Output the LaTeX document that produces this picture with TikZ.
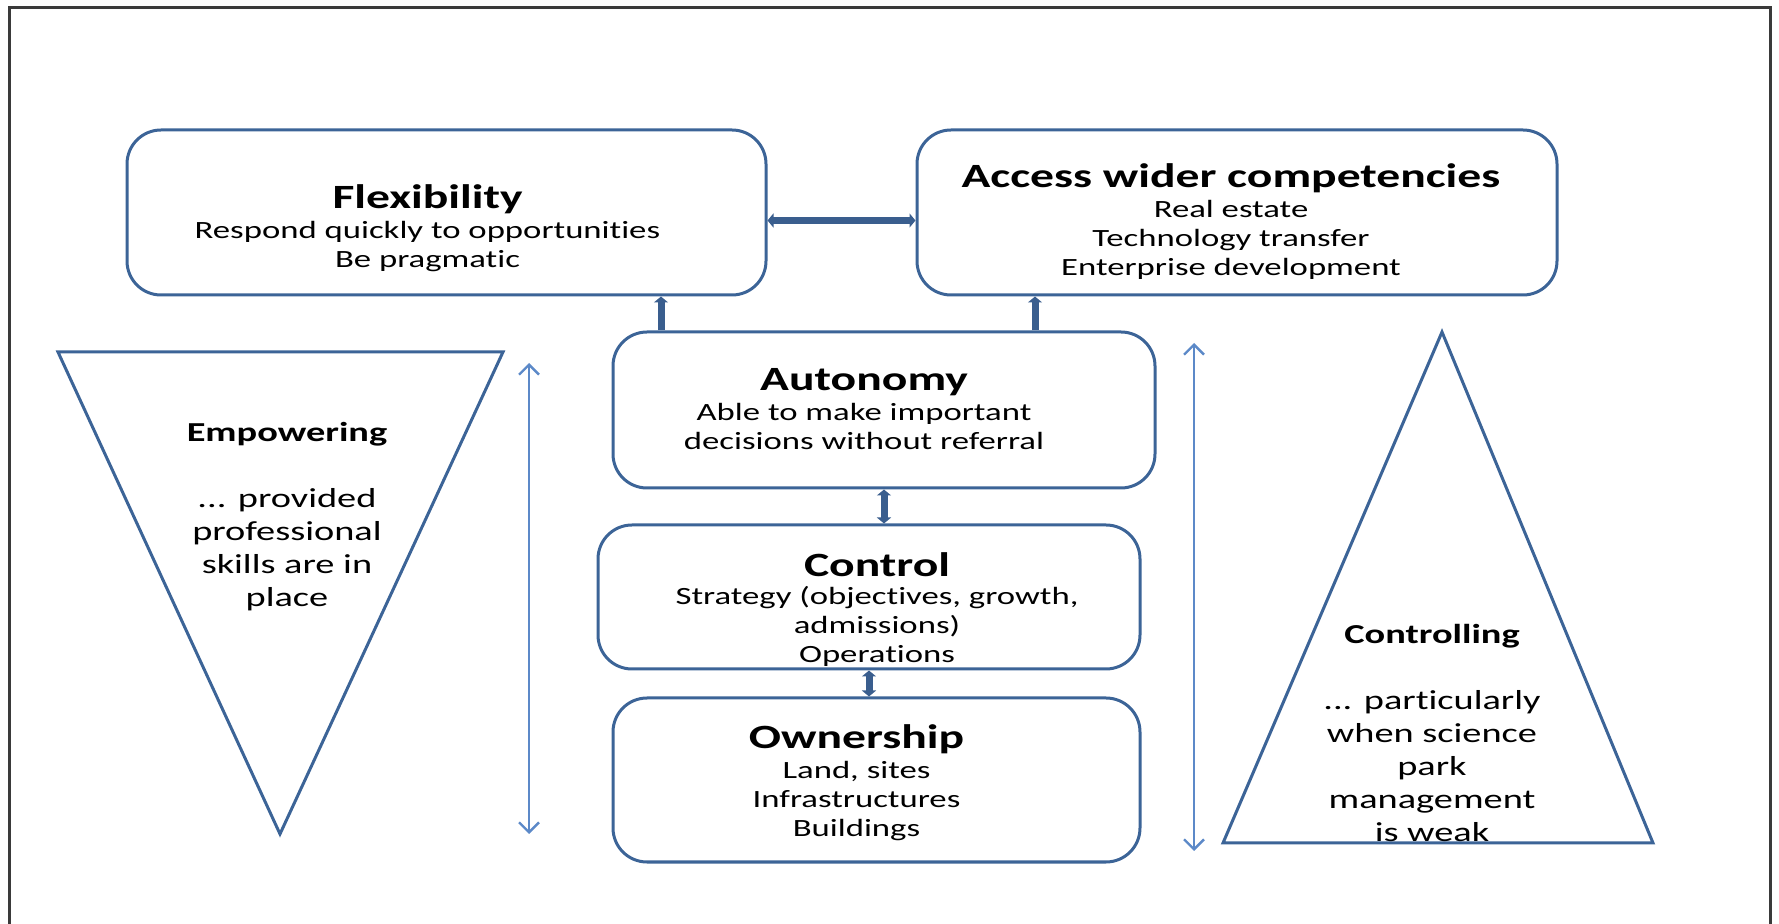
\documentclass[tikz,border=0pt]{standalone}
\usepackage{fontspec}
\setmainfont{Carlito}[FakeStretch=1.4, Ligatures=NoCommon]
\usetikzlibrary{arrows.meta, positioning, calc}
\definecolor{boxblue}{HTML}{3C6497}
\definecolor{linkblue}{HTML}{3A5E8E}
\definecolor{spanblue}{HTML}{5C89C8}
\definecolor{framegray}{HTML}{3A3A3A}

\begin{document}
\begin{tikzpicture}[x=0.5pt, y=-0.5pt,
  box/.style={draw=boxblue, line width=1.5pt, rounded corners=17pt, inner sep=0pt},
  boxtext/.style={align=center, inner sep=0pt, font=\fontsize{12.4}{14.5}\selectfont},
  tri/.style={draw=boxblue, line width=1.5pt},
  tritext/.style={align=center, inner sep=0pt, font=\fontsize{13.7}{16.5}\selectfont},
  link/.style={draw=linkblue, line width=3.5pt, >={Triangle[width=7pt,length=3pt]}},
  span/.style={draw=spanblue, line width=1.2pt, >={Straight Barb[length=5pt,width=10pt]}, <->}]
\useasboundingbox (0,0) rectangle (1779,924);
\draw[framegray, line width=1.5pt] (9,940) -- (9,8) -- (1770,8) -- (1770,940);

% Top boxes
\node[box, minimum width=319.5pt, minimum height=82.5pt] (flex) at (446.5,212.5) {};
\node[boxtext] (flexT) at ([xshift=-9.5pt, yshift=-8pt]flex.center)
  {{\fontsize{17}{20}\selectfont\bfseries Flexibility}\\[0.7pt]
   Respond quickly to opportunities\\Be pragmatic};
\node[box, minimum width=320pt, minimum height=82.5pt] (access) at (1237,212.5) {};
\node[boxtext] (accessT) at ([xshift=-3pt, yshift=-4.5pt]access.center)
  {{\fontsize{17}{20}\selectfont\bfseries Access wider competencies}\\[0.7pt]
   Real estate\\Technology transfer\\Enterprise development};

% Middle column
\node[box, minimum width=271pt, minimum height=78pt] (auton) at (884,410) {};
\node[boxtext] (autonT) at ([xshift=-10pt, yshift=0.5pt]auton.center)
  {{\fontsize{17}{20}\selectfont\bfseries Autonomy}\\[0.7pt]
   Able to make important\\decisions without referral};
\node[box, minimum width=271pt, minimum height=72pt] (ctrl) at (869,597) {};
\node[boxtext] (ctrlT) at ([xshift=4pt, yshift=-6.2pt]ctrl.center)
  {{\fontsize{17}{20}\selectfont\bfseries Control}\\[-0.4pt]
   Strategy (objectives, growth,\\admissions)\\Operations};
\node[box, minimum width=263.5pt, minimum height=82pt] (own) at (876.5,780) {};
\node[boxtext] (ownT) at ([xshift=-10pt, yshift=-1.5pt]own.center)
  {{\fontsize{17}{20}\selectfont\bfseries Ownership}\\[0.7pt]
   Land, sites\\Infrastructures\\Buildings};

% Links
\draw[link, <->] ([yshift=-4pt]flex.east) -- ([yshift=-4pt]flex.east -| access.west);
\draw[link, ->] ([xshift=-111.5pt]auton.north) -- ([xshift=-111.5pt]auton.north |- flex.south);
\draw[link, ->] ([xshift=75.5pt]auton.north) -- ([xshift=75.5pt]auton.north |- access.south);
\draw[link, <->] (auton.south) -- (auton.south |- ctrl.north);
\draw[link, <->] (ctrl.south) -- (ctrl.south |- own.north);

% Empowering
\draw[tri] (58,352) -- (503,352) -- (280,834) -- cycle;
\node[tritext] (emp) at (287,517)
  {\textbf{Empowering}\\[16.5pt]... provided\\professional\\skills are in\\place};
\coordinate (empT) at (529,363);
\coordinate (empB) at (529,834);
\draw[span] (empB) -- (empT);

% Controlling
\draw[tri] (1442,332) -- (1653,843) -- (1223,843) -- cycle;
\node[tritext] (ctl) at (1432,733)
  {\textbf{Controlling}\\[16.5pt]... particularly\\when science\\park\\management\\is weak};
\coordinate (ctlT) at (1194,343);
\coordinate (ctlB) at (1194,851);
\draw[span] (ctlB) -- (ctlT);
\end{tikzpicture}
\end{document}
